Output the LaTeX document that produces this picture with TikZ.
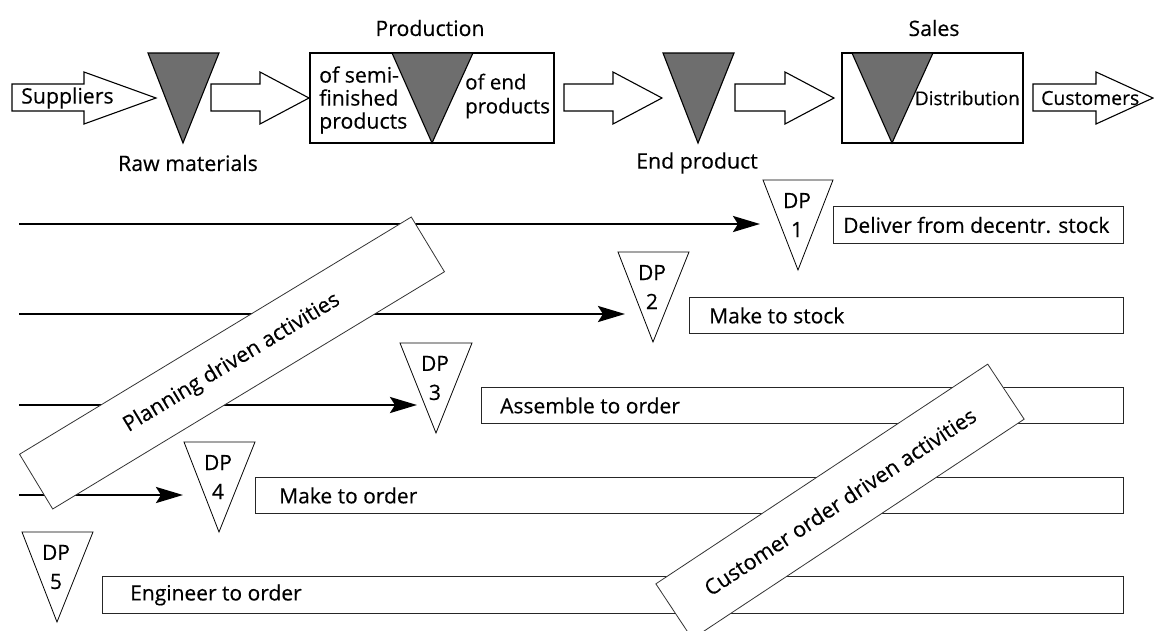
\documentclass[tikz,border=0pt]{standalone}
\usepackage{fontspec}
\setmainfont{Open Sans}[FakeBold=0.35]
\usetikzlibrary{arrows.meta}
\definecolor{trigray}{RGB}{110,110,110}
\begin{document}
\begin{tikzpicture}[x=1pt,y=-1pt,
  blockarrow/.style={draw=black, line width=1.1pt, fill=white, line join=miter},
  stocktri/.style={draw=black, line width=1.1pt, fill=trigray},
  framebox/.style={draw=black, line width=1.1pt, fill=white},
  lbl/.style={inner sep=0pt, font=\fontsize{21.3}{23}\selectfont},
  flow/.style={line width=2.6pt, -{Stealth[length=27pt,width=16pt,inset=5pt]}},
  dptri/.style={draw=black, line width=0.8pt, fill=white},
  dplbl/.style={inner sep=0pt, align=center, font=\fontsize{21}{29}\selectfont},
  rowbox/.style={draw=black!85, line width=0.9pt, fill=white, anchor=north west, inner sep=0pt},
  rowtext/.style={inner sep=0pt, anchor=west, font=\fontsize{21}{24}\selectfont},
  rotbox/.style={draw=black!80, line width=0.8pt, fill=white, inner sep=0pt, font=\fontsize{21.5}{24}\selectfont}
]
\useasboundingbox[fill=white] (0,0) rectangle (1154,630);

% ---------- top row ----------
\draw[framebox] (310,53) rectangle (554,143);
\draw[framebox] (842,53) rectangle (1023,143);

\draw[blockarrow] (12,84) -- (84,84) -- (84,72) -- (156,98) -- (84,124) -- (84,111) -- (12,111) -- cycle;
\draw[blockarrow] (211,84) -- (260,84) -- (260,72) -- (309,98) -- (260,124) -- (260,111) -- (211,111) -- cycle;
\draw[blockarrow] (564,84) -- (613,84) -- (613,72) -- (662,98) -- (613,124) -- (613,111) -- (564,111) -- cycle;
\draw[blockarrow] (735,84) -- (785,84) -- (785,72) -- (834,98) -- (785,124) -- (785,111) -- (735,111) -- cycle;
\draw[blockarrow] (1033,84) -- (1096,84) -- (1096,72) -- (1153,98) -- (1096,124) -- (1096,111) -- (1033,111) -- cycle;

\draw[stocktri] (148,53) -- (219,53) -- (183,143) -- cycle;
\draw[stocktri] (392,53) -- (473,53) -- (432,143) -- cycle;
\draw[stocktri] (663,53) -- (734,53) -- (698,143) -- cycle;
\draw[stocktri] (852,53) -- (933,53) -- (892,143) -- cycle;

\node[lbl, anchor=west] (sup) at (21,98) {Suppliers};
\node[lbl] (raw) at (188,163) {Raw materials};
\node[lbl] (prod) at (430,28) {Production};
\node[lbl, anchor=west, align=left] (semi) at (319,100) {of semi-\\finished\\products};
\node[lbl, anchor=west, align=left, font=\fontsize{20.5}{24}\selectfont] (endp) at (465,96) {of end\\products};
\node[lbl] (endprod) at (697,163) {End product};
\node[lbl] (sales) at (934,28) {Sales};
\node[lbl, anchor=east, font=\fontsize{19}{23}\selectfont] (dist) at (1020,98) {Distribution};
\node[lbl, anchor=west, font=\fontsize{19.4}{23}\selectfont] (cust) at (1041,98) {Customers};

% ---------- decoupling point rows ----------
\coordinate (s1) at (19,224); \coordinate (e1) at (760,224);
\coordinate (s2) at (19,314); \coordinate (e2) at (625,314);
\coordinate (s3) at (19,405); \coordinate (e3) at (417,405);
\coordinate (s4) at (19,495); \coordinate (e4) at (183,495);
\draw[flow] (s1) -- (e1);
\draw[flow] (s2) -- (e2);
\draw[flow] (s3) -- (e3);
\draw[flow] (s4) -- (e4);

\draw[dptri] (763,180) -- (833,180) -- (798,270) -- cycle;
\draw[dptri] (618,252) -- (689,252) -- (653,342) -- cycle;
\draw[dptri] (400,343) -- (472,343) -- (436,433) -- cycle;
\draw[dptri] (184,442) -- (255,442) -- (219,532) -- cycle;
\draw[dptri] (22,532) -- (93,532) -- (57,622) -- cycle;
\node[dplbl] (dp1) at (797,215) {DP\\1};
\node[dplbl] (dp2) at (652,287) {DP\\2};
\node[dplbl] (dp3) at (435,378) {DP\\3};
\node[dplbl] (dp4) at (218,477) {DP\\4};
\node[dplbl] (dp5) at (56,567) {DP\\5};

\node[rowbox, minimum width=290pt, minimum height=37pt] (b1) at (833,206) {};
\node[rowbox, minimum width=434pt, minimum height=36pt] (b2) at (689,297) {};
\node[rowbox, minimum width=642pt, minimum height=36pt] (b3) at (481,387) {};
\node[rowbox, minimum width=868pt, minimum height=36pt] (b4) at (255,477) {};
\node[rowbox, minimum width=1021pt, minimum height=37pt] (b5) at (102,576) {};
\node[rowtext] (t1) at ([xshift=10pt]b1.west) {Deliver from decentr. stock};
\node[rowtext] (t2) at ([xshift=20pt]b2.west) {Make to stock};
\node[rowtext] (t3) at ([xshift=19pt]b3.west) {Assemble to order};
\node[rowtext] (t4) at ([xshift=24pt]b4.west) {Make to order};
\node[rowtext] (t5) at ([xshift=28pt]b5.west) {Engineer to order};

% ---------- rotated labels ----------
\node[rotbox, rotate=31.2, minimum width=458pt, minimum height=64pt] (plan) at (232,363) {Planning driven activities};
\node[rotbox, rotate=33.5, minimum width=398pt, minimum height=66pt] (custorder) at (840,501.5) {Customer order driven activities};
\end{tikzpicture}
\end{document}
